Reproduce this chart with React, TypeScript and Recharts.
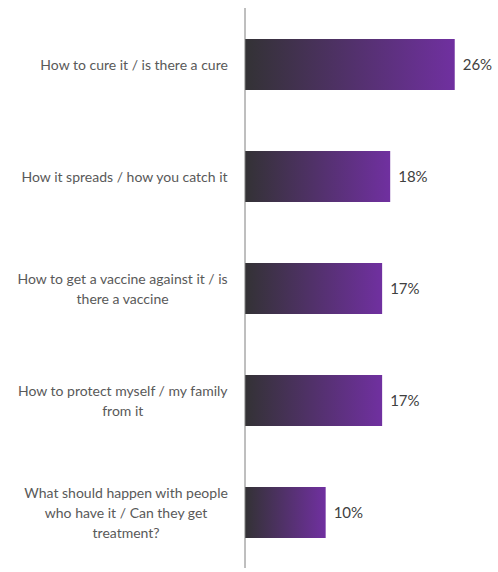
import React from "react";
import { BarChart, Bar, XAxis, YAxis, LabelList } from "recharts";

const categories = [
  "How to cure it / is there a cure",
  "How it spreads / how you catch it",
  "How to get a vaccine against it / is\nthere a vaccine",
  "How to protect myself / my family\nfrom it",
  "What should happen with people\nwho have it / Can they get\ntreatment?",
];
const shares = [26, 18, 17, 17, 10];

const data = categories.map((c, i) => ({ topic: c, share: shares[i] }));

const FONT = "14px Lato";
let ctx: CanvasRenderingContext2D | null = null;
const measure = (s: string) => {
  if (!ctx) ctx = document.createElement("canvas").getContext("2d");
  if (!ctx) return s.length * 6.5;
  ctx.font = FONT;
  return ctx.measureText(s).width;
};

const TopicTick = (props: any) => {
  const { y, payload } = props;
  const lines: string[] = String(payload.value).split("\n");
  const maxW = Math.max(...lines.map(measure));
  const cx = 228 - maxW / 2;
  const lh = 20;
  const y0 = y - ((lines.length - 1) * lh) / 2;
  return (
    <text
      x={cx}
      y={y0}
      textAnchor="middle"
      dominantBaseline="central"
      fill="#595959"
      fontSize={14}
      fontFamily="Lato"
    >
      {lines.map((l, i) => (
        <tspan key={i} x={cx} y={y0 + i * lh}>
          {l}
        </tspan>
      ))}
    </text>
  );
};

export default function App() {
  return (
    <div style={{ position: "absolute", left: 0, top: 0 }}>
      <BarChart
        width={498}
        height={572}
        data={data}
        layout="vertical"
        margin={{ top: 8, right: 11, left: 0, bottom: 4 }}
      >
        <defs>
          <linearGradient id="barGrad" x1="0" y1="0" x2="1" y2="0">
            <stop offset="0%" stopColor="#333235" />
            <stop offset="100%" stopColor="#7030a0" />
          </linearGradient>
        </defs>
        <XAxis type="number" domain={[0, 30]} hide />
        <YAxis
          type="category"
          dataKey="topic"
          width={245}
          axisLine={{ stroke: "#7f7f7f" }}
          tickLine={false}
          tick={<TopicTick />}
          interval={0}
        />
        <Bar
          dataKey="share"
          fill="url(#barGrad)"
          barSize={51}
          isAnimationActive={false}
        >
          <LabelList
            dataKey="share"
            position="right"
            offset={8}
            formatter={(v: any) => `${v}%`}
            fill="#404040"
            fontSize={15}
            fontFamily="Lato"
          />
        </Bar>
      </BarChart>
    </div>
  );
}
